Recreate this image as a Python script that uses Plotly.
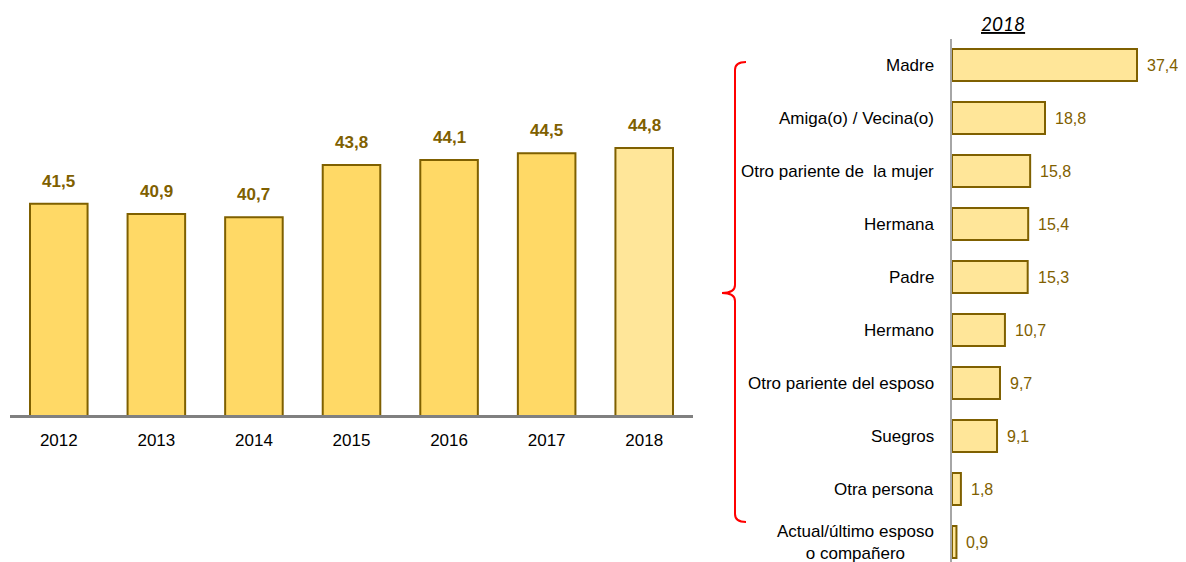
import plotly.graph_objects as go

years = ["2012", "2013", "2014", "2015", "2016", "2017", "2018"]
year_values = [41.5, 40.9, 40.7, 43.8, 44.1, 44.5, 44.8]

persons = ["Madre", "Amiga(o) / Vecina(o)", "Otro pariente de  la mujer", "Hermana",
           "Padre", "Hermano", "Otro pariente del esposo", "Suegros", "Otra persona",
           "Actual/último esposo<br>o compañero"]
person_values = [37.4, 18.8, 15.8, 15.4, 15.3, 10.7, 9.7, 9.1, 1.8, 0.9]

# page body has an 8px default margin -> figure occupies 8..1186 x 8..562
OFF = 8
W, H = 1186 - OFF, 562 - OFF
FONT = "Liberation Sans, Arial, sans-serif"
GOLD = "#7F6000"
FILL = "#FFD966"
FILL_LIGHT = "#FFE699"


def fmt(v):
    return f"{v:.1f}".replace(".", ",")


def px(x):
    return (x - OFF) / W


def py(y):
    return 1 - (y - OFF) / H


fig = go.Figure()

fig.add_trace(go.Bar(
    x=years, y=year_values,
    marker=dict(color=[FILL] * (len(years) - 1) + [FILL_LIGHT],
                line=dict(color=GOLD, width=2)),
    width=0.59, xaxis="x", yaxis="y", showlegend=False, hoverinfo="skip",
))

fig.add_trace(go.Bar(
    x=person_values, y=persons, orientation="h",
    marker=dict(color=FILL_LIGHT, line=dict(color=GOLD, width=2)),
    width=0.6, xaxis="x2", yaxis="y2", showlegend=False, hoverinfo="skip",
))

annotations = []
for i, v in enumerate(year_values):
    annotations.append(dict(x=i, y=v, xref="x", yref="y", text=f"<b>{fmt(v)}</b>",
                            showarrow=False, yanchor="bottom", yshift=11,
                            font=dict(family=FONT, size=17, color=GOLD)))
for p, v in zip(persons, person_values):
    annotations.append(dict(x=v, y=p, xref="x2", yref="y2", text=fmt(v),
                            showarrow=False, xanchor="left", xshift=8,
                            font=dict(family=FONT, size=16, color=GOLD)))
    annotations.append(dict(x=px(936), y=p, xref="paper", yref="y2", text=p,
                            showarrow=False, xanchor="right", align="center",
                            font=dict(family=FONT, size=17, color="#000000")))
annotations.append(dict(x=px(1003), y=py(24), xref="paper", yref="paper",
                        text="<i><u>2018</u></i>", showarrow=False,
                        xanchor="center", yanchor="middle",
                        font=dict(family="Lato, Open Sans, sans-serif", size=19, color="#000000")))

bracket = (f"M {px(746)},{py(62)} Q {px(735)},{py(62)} {px(735)},{py(70)} "
           f"L {px(735)},{py(285)} Q {px(735)},{py(293)} {px(722)},{py(293)} "
           f"Q {px(735)},{py(293)} {px(735)},{py(301)} "
           f"L {px(735)},{py(514)} Q {px(735)},{py(522)} {px(746)},{py(522)}")

fig.update_layout(
    width=W, height=H,
    margin=dict(l=0, r=0, t=0, b=0),
    paper_bgcolor="white", plot_bgcolor="white",
    annotations=annotations,
    shapes=[dict(type="path", path=bracket, xref="paper", yref="paper",
                 line=dict(color="#FF0000", width=2))],
    xaxis=dict(domain=[px(10), px(693)], range=[-0.5, 6.5], type="category",
               showline=True, linecolor="#808080", linewidth=3,
               showgrid=False, ticks="outside", ticklen=8, tickcolor="rgba(0,0,0,0)",
               tickfont=dict(family=FONT, size=17, color="#000000"),
               anchor="y", fixedrange=True),
    yaxis=dict(domain=[py(415), py(40)], range=[29, 51.2], visible=False,
               showgrid=False, anchor="x", fixedrange=True),
    xaxis2=dict(domain=[px(952), 1], range=[0, 47.3], visible=False,
                showgrid=False, anchor="y2", fixedrange=True),
    yaxis2=dict(domain=[0, py(38.5)], range=[9.377, -0.5], type="category",
                showline=True, linecolor="#A6A6A6", linewidth=2,
                showgrid=False, showticklabels=False, ticks="",
                anchor="x2", fixedrange=True),
)

fig.write_html("out.html")
